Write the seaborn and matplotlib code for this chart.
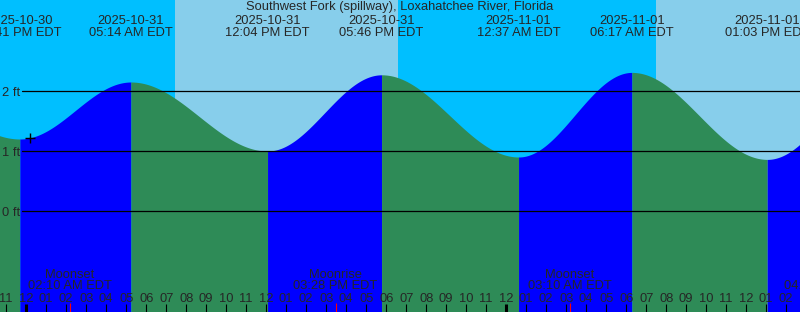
import numpy as np
import matplotlib
matplotlib.use("Agg")
import matplotlib.pyplot as plt
import seaborn as sns

# ---------------- data (hours relative to 2025-10-31 00:00 EDT) ----------------
title = "Southwest Fork (spillway), Loxahatchee River, Florida"

# tide extremes (incl. one before and one after the visible window)
ext_hours = [-6.67, -0.317, 5.233, 12.067, 17.767, 24.617, 30.283, 37.05, 43.0]
ext_heights = [2.10, 1.20, 2.15, 1.00, 2.27, 0.90, 2.31, 0.86, 2.30]
ext_dates = ["2025-10-30", "2025-10-30", "2025-10-31", "2025-10-31", "2025-10-31",
             "2025-11-01", "2025-11-01", "2025-11-01", "2025-11-01"]
ext_times = ["05:20 PM EDT", "11:41 PM EDT", "05:14 AM EDT", "12:04 PM EDT", "05:46 PM EDT",
             "12:37 AM EDT", "06:17 AM EDT", "01:03 PM EDT", "07:00 PM EDT"]

# daylight intervals (sunrise, sunset)
day_start = [7.45, 31.48]
day_end = [18.6, 42.6]

# moon events
moon_hours = [2.167, 15.467, 27.167, 40.0]
moon_names = ["Moonset", "Moonrise", "Moonset", "Moonrise"]
moon_times = ["02:10 AM EDT", "03:28 PM EDT", "03:10 AM EDT", "04:00 PM EDT"]

# gridline levels
level_ft = [0, 1, 2]
level_labels = ["0 ft", "1 ft", "2 ft"]

# "now" marker
now_hour = 0.19
now_height = 1.21

# ---------------- layout ----------------
W, H = 800, 312
X0 = 26.2          # pixel of midnight 2025-10-31
PXH = 20.0         # pixels per hour
Y0 = 211.0         # pixel of 0 ft
PXF = 60.0         # pixels per foot

def px2h(x):
    return (x - X0) / PXH

def px2ft(y):
    return (Y0 - y) / PXF

xmin, xmax = px2h(0), px2h(W)
ymin, ymax = px2ft(H), px2ft(0)

NIGHT = "#00BFFF"
DAY = "#87CEEB"
RISE = "#0000FF"
FALL = "#2E8B57"

sns.set_style("white")
plt.rcParams["font.family"] = ["Liberation Sans", "DejaVu Sans"]
FS = 9.3

fig = plt.figure(figsize=(W / 100, H / 100), dpi=100)
ax = fig.add_axes([0, 0, 1, 1])
ax.set_xlim(xmin, xmax)
ax.set_ylim(ymin, ymax)
ax.axis("off")
ax.set_facecolor(NIGHT)
fig.patch.set_facecolor(NIGHT)
ax.axvspan(xmin, xmax, color=NIGHT, lw=0, zorder=0)
for a, b in zip(day_start, day_end):
    ax.axvspan(a, b, color=DAY, lw=0, zorder=0.5)

# water: cosine between consecutive extremes
for i in range(len(ext_hours) - 1):
    t0, t1 = ext_hours[i], ext_hours[i + 1]
    h0, h1 = ext_heights[i], ext_heights[i + 1]
    t = np.linspace(t0, t1, 200)
    h = h0 + (h1 - h0) * (1 - np.cos(np.pi * (t - t0) / (t1 - t0))) / 2
    col = RISE if h1 > h0 else FALL
    ax.fill_between(t, ymin, h, color=col, lw=0, zorder=1)

# level lines
for lv, lab in zip(level_ft, level_labels):
    ax.axhline(lv, xmin=22 / W, xmax=1, color="black", lw=0.9, zorder=3)
    ax.text(px2h(2), lv - 4.9 / PXF, lab, fontsize=FS, ha="left", va="baseline", zorder=4)

# now marker
sns.scatterplot(x=[now_hour], y=[now_height], marker="+", s=60, color="black",
                linewidth=1.0, ax=ax, zorder=5, legend=False)

# title and extreme labels
ax.text(px2h(400), px2ft(10), title, fontsize=FS, ha="center", va="baseline", zorder=4)
for t, d, tm in zip(ext_hours, ext_dates, ext_times):
    ax.text(t, px2ft(24), d, fontsize=FS, ha="center", va="baseline", zorder=4, clip_on=True)
    ax.text(t, px2ft(36), tm, fontsize=FS, ha="center", va="baseline", zorder=4, clip_on=True)

# moon labels and ticks
for t, n, tm in zip(moon_hours, moon_names, moon_times):
    ax.text(t, px2ft(278), n, fontsize=FS, ha="center", va="baseline", zorder=4, clip_on=True)
    ax.text(t, px2ft(289), tm, fontsize=FS, ha="center", va="baseline", zorder=4, clip_on=True)
    ax.vlines(t, px2ft(312), px2ft(303), color="red", lw=0.8, zorder=4)

# hour labels and ticks
for hr in range(int(np.floor(xmin)), int(np.ceil(xmax)) + 1):
    hh = hr % 12
    lab = "%02d" % (12 if hh == 0 else hh)
    ax.text(hr, px2ft(301.5), lab, fontsize=FS, ha="center", va="baseline", zorder=4, clip_on=True)
    if hr % 24 == 0:
        ax.vlines(hr, px2ft(312), px2ft(304), color="black", lw=2.2, zorder=4)
    else:
        ax.vlines(hr, px2ft(312), px2ft(304), color="black", lw=0.8, zorder=4)

fig.savefig("out.png", dpi=100, facecolor=NIGHT)
